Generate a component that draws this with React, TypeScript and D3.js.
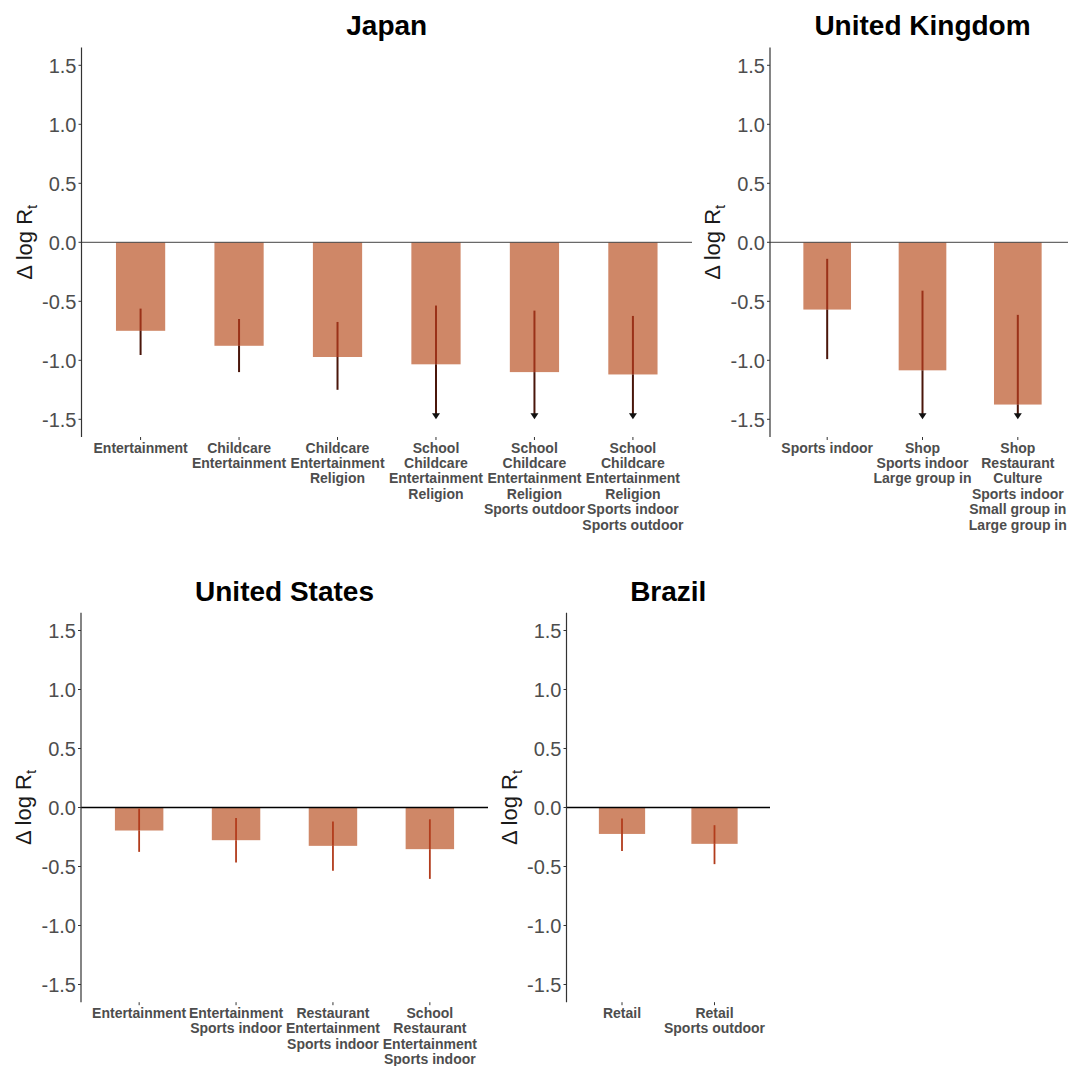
import React from "react";
import * as d3 from "d3";

// ---------- data ----------
const japanLabels = [
  "Entertainment",
  "Childcare\nEntertainment",
  "Childcare\nEntertainment\nReligion",
  "School\nChildcare\nEntertainment\nReligion",
  "School\nChildcare\nEntertainment\nReligion\nSports outdoor",
  "School\nChildcare\nEntertainment\nReligion\nSports indoor\nSports outdoor",
];
const japanEstimate = [-0.75, -0.877, -0.972, -1.034, -1.1, -1.12];
const japanUpper = [-0.562, -0.65, -0.675, -0.536, -0.579, -0.624];
const japanLower: (number | null)[] = [-0.955, -1.1, -1.25, null, null, null];

const ukLabels = [
  "Sports indoor",
  "Shop\nSports indoor\nLarge group in",
  "Shop\nRestaurant\nCulture\nSports indoor\nSmall group in\nLarge group in",
];
const ukEstimate = [-0.57, -1.085, -1.375];
const ukUpper = [-0.14, -0.41, -0.615];
const ukLower: (number | null)[] = [-0.99, null, null];

const usLabels = [
  "Entertainment",
  "Entertainment\nSports indoor",
  "Restaurant\nEntertainment\nSports indoor",
  "School\nRestaurant\nEntertainment\nSports indoor",
];
const usEstimate = [-0.195, -0.277, -0.325, -0.353];
const usUpper = [-0.01, -0.09, -0.119, -0.1];
const usLower: (number | null)[] = [-0.376, -0.466, -0.537, -0.605];

const brazilLabels = ["Retail", "Retail\nSports outdoor"];
const brazilEstimate = [-0.224, -0.308];
const brazilUpper = [-0.093, -0.15];
const brazilLower: (number | null)[] = [-0.368, -0.48];

const yTicks = [1.5, 1.0, 0.5, 0.0, -0.5, -1.0, -1.5];
const yTickLabels = ["1.5", "1.0", "0.5", "0.0", "-0.5", "-1.0", "-1.5"];
const yDomain: [number, number] = [-1.65, 1.65];
const arrowFloor = -1.5;

// ---------- styles ----------
const FONT = "Arial, 'Liberation Sans', Helvetica, sans-serif";
const BAR = "#cf8767";
const AXIS = "#333333";
const TICKTEXT = "#4d4d4d";

type PanelProps = {
  title: string;
  labels: string[];
  estimate: number[];
  upper: number[];
  lower: (number | null)[];
  x0: number;
  x1: number;
  yTop: number;
  yBottom: number;
  titleY: number;
  bottomRow: boolean;
};

function Panel(p: PanelProps) {
  const n = p.labels.length;
  const x = d3
    .scaleBand<number>()
    .domain(d3.range(n))
    .range([p.x0, p.x1])
    .paddingInner(0)
    .paddingOuter(0.1);
  const bw = x.bandwidth();
  const y = d3.scaleLinear().domain(yDomain).range([p.yBottom, p.yTop]);
  const barW = bw * 0.5;
  const y0 = y(0);
  const errIn = p.bottomRow ? "#b23c1c" : "#9a3118";
  const errOut = p.bottomRow ? "#b23c1c" : "#4a160b";
  const errW = p.bottomRow ? 1.8 : 2;

  return (
    <g>
      <text
        x={(p.x0 + p.x1) / 2}
        y={p.titleY}
        textAnchor="middle"
        fontFamily={FONT}
        fontWeight="bold"
        fontSize={28}
        fill="#000"
      >
        {p.title}
      </text>
      {/* bars */}
      {p.estimate.map((v, i) => {
        const cx = (x(i) as number) + bw / 2;
        return (
          <rect
            key={"b" + i}
            x={cx - barW / 2}
            y={Math.min(y(v), y0)}
            width={barW}
            height={Math.abs(y(v) - y0)}
            fill={BAR}
          />
        );
      })}
      {/* zero line */}
      <line
        x1={p.x0}
        x2={p.x1}
        y1={y0}
        y2={y0}
        stroke={p.bottomRow ? "#000" : "#444"}
        strokeWidth={p.bottomRow ? 1.4 : 1}
      />
      {/* error bars */}
      {p.estimate.map((v, i) => {
        const cx = (x(i) as number) + bw / 2;
        const top = y(p.upper[i]);
        const lo = p.lower[i];
        const barEnd = y(v);
        const isArrow = lo === null;
        const endY = isArrow ? y(arrowFloor) : y(lo as number);
        const headH = 6;
        const lineEnd = isArrow ? endY - headH + 1 : endY;
        const split = Math.min(Math.max(barEnd, top), lineEnd);
        return (
          <g key={"e" + i}>
            <line x1={cx} x2={cx} y1={top} y2={split} stroke={errIn} strokeWidth={errW} />
            {lineEnd > split && (
              <line x1={cx} x2={cx} y1={split} y2={lineEnd} stroke={errOut} strokeWidth={errW} />
            )}
            {isArrow && (
              <path
                d={`M${cx - 4},${endY - headH} L${cx + 4},${endY - headH} L${cx},${endY} Z`}
                fill="#111"
              />
            )}
          </g>
        );
      })}
      {/* y axis */}
      <line x1={p.x0} x2={p.x0} y1={p.yTop} y2={p.yBottom} stroke={AXIS} strokeWidth={1.2} />
      {yTicks.map((t, k) => (
        <g key={"t" + t}>
          <line x1={p.x0 - 3} x2={p.x0} y1={y(t)} y2={y(t)} stroke={AXIS} strokeWidth={1} />
          <text
            x={p.x0 - 5}
            y={y(t)}
            dy="0.36em"
            textAnchor="end"
            fontFamily={FONT}
            fontSize={20}
            fill={TICKTEXT}
          >
            {yTickLabels[k]}
          </text>
        </g>
      ))}
      {/* y axis title */}
      <text
        transform={`translate(${p.x0 - 50},${(p.yTop + p.yBottom) / 2}) rotate(-90)`}
        textAnchor="middle"
        fontFamily={FONT}
        fontSize={22}
        fill="#1a1a1a"
      >
        {"\u0394 log R"}
        <tspan fontSize={15} dy={5}>
          t
        </tspan>
      </text>
      {/* x ticks + labels */}
      {p.labels.map((lab, i) => {
        const cx = (x(i) as number) + bw / 2;
        const lines = lab.split("\n");
        return (
          <g key={"x" + i}>
            <line x1={cx} x2={cx} y1={p.yBottom} y2={p.yBottom + 3} stroke={AXIS} strokeWidth={1} />
            <text
              textAnchor="middle"
              fontFamily={FONT}
              fontWeight="bold"
              fontSize={14}
              fill={TICKTEXT}
            >
              {lines.map((ln, j) => (
                <tspan key={j} x={cx} y={p.yBottom + 10.5 + j * 15.4} dy="0.36em">
                  {ln}
                </tspan>
              ))}
            </text>
          </g>
        );
      })}
    </g>
  );
}

export default function App() {
  const topRow = { yTop: 47.6, yBottom: 437, titleY: 35 };
  const botRow = { yTop: 612.8, yBottom: 1002.2, titleY: 600.5 };
  return (
    <svg
      width={1068}
      height={1066}
      style={{ position: "absolute", left: 0, top: 0, background: "#fff" }}
    >
      <rect width={1068} height={1066} fill="#fff" />
      <Panel
        title="Japan"
        labels={japanLabels}
        estimate={japanEstimate}
        upper={japanUpper}
        lower={japanLower}
        x0={81.5}
        x1={692}
        {...topRow}
        bottomRow={false}
      />
      <Panel
        title="United Kingdom"
        labels={ukLabels}
        estimate={ukEstimate}
        upper={ukUpper}
        lower={ukLower}
        x0={770}
        x1={1075}
        {...topRow}
        bottomRow={false}
      />
      <Panel
        title="United States"
        labels={usLabels}
        estimate={usEstimate}
        upper={usUpper}
        lower={usLower}
        x0={81}
        x1={488}
        {...botRow}
        bottomRow={true}
      />
      <Panel
        title="Brazil"
        labels={brazilLabels}
        estimate={brazilEstimate}
        upper={brazilUpper}
        lower={brazilLower}
        x0={566.5}
        x1={770}
        {...botRow}
        bottomRow={true}
      />
    </svg>
  );
}
